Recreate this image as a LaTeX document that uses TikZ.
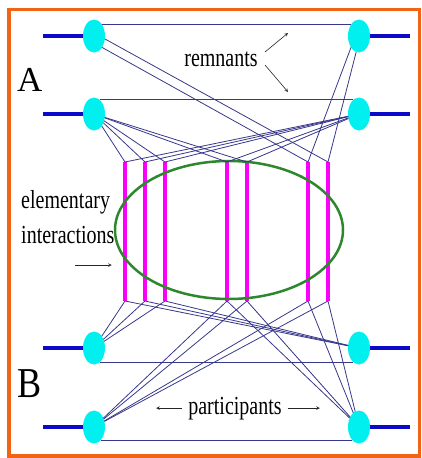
\documentclass[tikz,border=0pt]{standalone}
\usepackage{fontspec}
\setmainfont{Liberation Serif}
\usepackage{graphicx}
\usetikzlibrary{shapes.geometric, arrows.meta, positioning}

\definecolor{framecol}{RGB}{240,100,20}
\definecolor{stubblue}{RGB}{10,10,200}
\definecolor{wireblue}{RGB}{55,55,140}
\definecolor{ringgreen}{RGB}{45,135,45}
\definecolor{nucleoncol}{RGB}{0,240,240}
\definecolor{pomcol}{RGB}{250,0,250}

\newcommand{\tall}[1]{\scalebox{1}[1.3]{#1}}

\begin{document}
\begin{tikzpicture}[
        x=1pt, y=-1pt,
        >=stealth,
        nucleon/.style={ellipse, fill=nucleoncol, inner sep=0pt, outer sep=0pt, minimum width=22pt, minimum height=33pt},
        stub/.style={draw=stubblue, line width=3.5pt},
        wire/.style={draw=wireblue, line width=0.8pt},
        pomeron/.style={rectangle, fill=pomcol, inner sep=0pt, outer sep=0pt, minimum width=4pt, minimum height=139pt},
        txt/.style={inner sep=0pt, font=\fontsize{20}{24}\selectfont},
        pointer/.style={->, line width=0.6pt, black!85}
    ]
        \useasboundingbox (0,0) rectangle (421,458);

        % ================= MARCO =================
        \draw[framecol, line width=3.5pt] (9,9.5) rectangle (419.5,456);

        % ================= NUCLEONES =================
        \node[nucleon] (a1l) at (94,36) {};
        \node[nucleon] (a1r) at (359,36) {};
        \node[nucleon] (a2l) at (94,114) {};
        \node[nucleon] (a2r) at (359,114) {};
        \node[nucleon] (b1l) at (94,348) {};
        \node[nucleon] (b1r) at (359,348) {};
        \node[nucleon] (b2l) at (94,427) {};
        \node[nucleon] (b2r) at (359,427) {};

        % Lineas de haz
        \foreach \n in {a1l, a2l, b1l, b2l}
            \draw[stub] (\n.west) -- +(-40,0);
        \foreach \n in {a1r, a2r, b1r, b2r}
            \draw[stub] (\n.east) -- +(40,0);

        % ================= INTERACCIONES ELEMENTALES =================
        \node[pomeron] (e1) at (125,231.5) {};
        \node[pomeron] (e2) at (145,231.5) {};
        \node[pomeron] (e3) at (165,231.5) {};
        \node[pomeron] (e4) at (227,231.5) {};
        \node[pomeron] (e5) at (247,231.5) {};
        \node[pomeron] (e6) at (308,231.5) {};
        \node[pomeron] (e7) at (328,231.5) {};

        \node[ellipse, draw=ringgreen, line width=2.5pt, inner sep=0pt,
              minimum width=228pt, minimum height=138pt] (blob) at (229,230) {};

        % Conexiones con A
        \foreach \e in {e1, e2, e3, e4, e5} {
            \draw[wire] (a2l) -- (\e.north);
            \draw[wire] (a2r) -- (\e.north);
        }
        \draw[wire] (a1l.-15) -- (e7.north);
        \draw[wire] (a1l.-55) -- (e6.north);
        \draw[wire] (a1r.-125) -- (e6.north);
        \draw[wire] (a1r.-100) -- (e7.north);

        % Conexiones con B
        \foreach \e in {e1, e2, e3} {
            \draw[wire] (b1l) -- (\e.south);
            \draw[wire] (b1r) -- (\e.south);
        }
        \foreach \e in {e4, e5, e6, e7} {
            \draw[wire] (b2l) -- (\e.south);
            \draw[wire] (b2r) -- (\e.south);
        }

        % Remanentes
        \draw[wire] (a1l.58) -- (a1r.122);
        \draw[wire] (a2l.68) -- (a2r.112);
        \draw[wire] (b1l.-68) -- (b1r.-112);
        \draw[wire] (b2l.-62) -- (b2r.-118);

        % ================= ETIQUETAS =================
        \node[txt, font=\fontsize{35}{40}\selectfont, anchor=base west] (labA) at (17,91) {A};
        \node[txt, font=\fontsize{38}{44}\selectfont, anchor=base west] (labB) at (17,397) {\scalebox{0.95}[1.12]{B}};

        \node[txt, anchor=base] (rem) at (221,66) {\tall{remnants}};
        \coordinate (remA) at (265,52);
        \coordinate (remB) at (265,65);
        \coordinate (remup) at (288,33);
        \coordinate (remdn) at (288,92);
        \draw[pointer] (remA) -- (remup);
        \draw[pointer] (remB) -- (remdn);

        \node[txt, anchor=base west] (elem) at (21,208) {\tall{elementary}};
        \node[txt, anchor=base west] (inter) at (21,243) {\tall{interactions}};
        \coordinate (eitail) at (75,265);
        \draw[pointer, shorten >=2pt] (eitail) -- (blob.west |- eitail);

        \node[txt, anchor=base] (part) at (235,414) {\tall{participants}};
        \draw[pointer] ([xshift=-6pt]part.west) -- ++(-26,0);
        \draw[pointer] ([xshift=6pt]part.east) -- ++(32,0);

    \end{tikzpicture}
\end{document}
